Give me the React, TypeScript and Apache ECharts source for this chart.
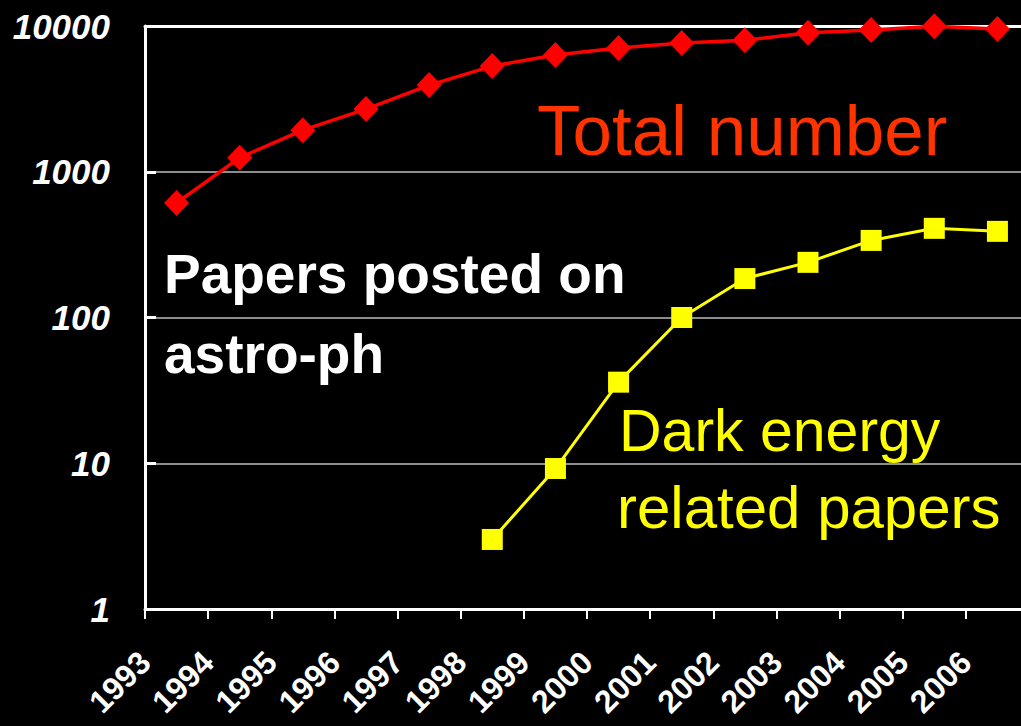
import React, { useEffect, useRef } from "react";
import * as echarts from "echarts";

const years = [1993, 1994, 1995, 1996, 1997, 1998, 1999, 2000, 2001, 2002, 2003, 2004, 2005, 2006];
const totalPapers = [610, 1250, 1930, 2690, 3930, 5310, 6330, 7060, 7640, 7980, 9000, 9390, 9950, 9530];
const darkEnergyYears = [1998, 1999, 2000, 2001, 2002, 2003, 2004, 2005, 2006];
const darkEnergyPapers = [3, 9.2, 36, 100, 185, 239, 338, 409, 390];
const yTicks = [1, 10, 100, 1000, 10000];

export default function App() {
  const ref = useRef<HTMLDivElement>(null);
  useEffect(() => {
    if (!ref.current) return;
    const chart = echarts.init(ref.current, null, { renderer: "svg" });
    const totalData = years.map((y, i) => [y + 0.5, totalPapers[i]]);
    const deData = darkEnergyYears.map((y, i) => [y + 0.5, darkEnergyPapers[i]]);
    chart.setOption({
      animation: false,
      backgroundColor: "#000000",
      grid: { left: 145, top: 26, bottom: 117, right: -8, outerBoundsMode: "none", containLabel: false },
      xAxis: [
        {
          type: "value",
          min: years[0],
          max: years[years.length - 1] + 1,
          interval: 1,
          axisLine: { show: true, lineStyle: { color: "#ffffff", width: 3 } },
          axisTick: { show: true, length: 10, lineStyle: { color: "#ffffff", width: 2 } },
          splitLine: { show: false },
          axisLabel: {
            rotate: 45,
            margin: 48,
            color: "#ffffff",
            fontFamily: "Liberation Sans, Arial, sans-serif",
            fontWeight: "bold",
            fontSize: 32,
            formatter: (v: number) => (years.indexOf(Math.round(v)) >= 0 ? String(Math.round(v)) : ""),
          },
        },
        {
          type: "value",
          position: "top",
          min: years[0],
          max: years[years.length - 1] + 1,
          axisLine: { show: true, lineStyle: { color: "#ffffff", width: 3 } },
          axisTick: { show: false },
          axisLabel: { show: false },
          splitLine: { show: false },
        },
      ],
      yAxis: {
        type: "log",
        logBase: 10,
        min: yTicks[0],
        max: yTicks[yTicks.length - 1],
        axisLine: { show: true, lineStyle: { color: "#ffffff", width: 3 } },
        axisTick: { show: true, inside: true, length: 11, lineStyle: { color: "#ffffff", width: 3 } },
        splitLine: { show: true, lineStyle: { color: "#bdbdbd", width: 1.5 } },
        axisLabel: {
          color: "#ffffff",
          margin: 35,
          fontFamily: "Liberation Sans, Arial, sans-serif",
          fontWeight: "bold",
          fontStyle: "italic",
          fontSize: 35,
          formatter: (v: number) => String(Math.round(v)),
        },
      },
      graphic: [
        {
          type: "text",
          style: {
            x: 537,
            y: 130,
            text: "Total number",
            fill: "#ff3300",
            font: "normal 71px 'Liberation Sans', Arial, sans-serif",
            textAlign: "left",
            verticalAlign: "middle",
          },
        },
        {
          type: "text",
          style: {
            x: 164,
            y: 274,
            text: "Papers posted on",
            fill: "#ffffff",
            font: "bold 55px 'Liberation Sans', Arial, sans-serif",
            textAlign: "left",
            verticalAlign: "middle",
          },
        },
        {
          type: "text",
          style: {
            x: 164,
            y: 354,
            text: "astro-ph",
            fill: "#ffffff",
            font: "bold 55px 'Liberation Sans', Arial, sans-serif",
            textAlign: "left",
            verticalAlign: "middle",
          },
        },
        {
          type: "text",
          style: {
            x: 619,
            y: 431,
            text: "Dark energy",
            fill: "#ffff00",
            font: "normal 59px 'Liberation Sans', Arial, sans-serif",
            textAlign: "left",
            verticalAlign: "middle",
          },
        },
        {
          type: "text",
          style: {
            x: 617,
            y: 507,
            text: "related papers",
            fill: "#ffff00",
            font: "normal 60px 'Liberation Sans', Arial, sans-serif",
            textAlign: "left",
            verticalAlign: "middle",
          },
        },
      ],
      series: [
        {
          name: "Total number",
          type: "line",
          data: totalData,
          symbol: "diamond",
          symbolSize: [25, 26],
          lineStyle: { color: "#ff0000", width: 3.5 },
          itemStyle: { color: "#ff0000" },
          z: 5,
        },
        {
          name: "Dark energy related papers",
          type: "line",
          data: deData,
          symbol: "rect",
          symbolSize: 21,
          lineStyle: { color: "#ffff00", width: 3 },
          itemStyle: { color: "#ffff00" },
          z: 5,
        },
      ],
    });
    return () => chart.dispose();
  }, []);
  return (
    <div
      ref={ref}
      style={{ position: "absolute", left: 0, top: 0, width: 1021, height: 726, background: "#000" }}
    />
  );
}
